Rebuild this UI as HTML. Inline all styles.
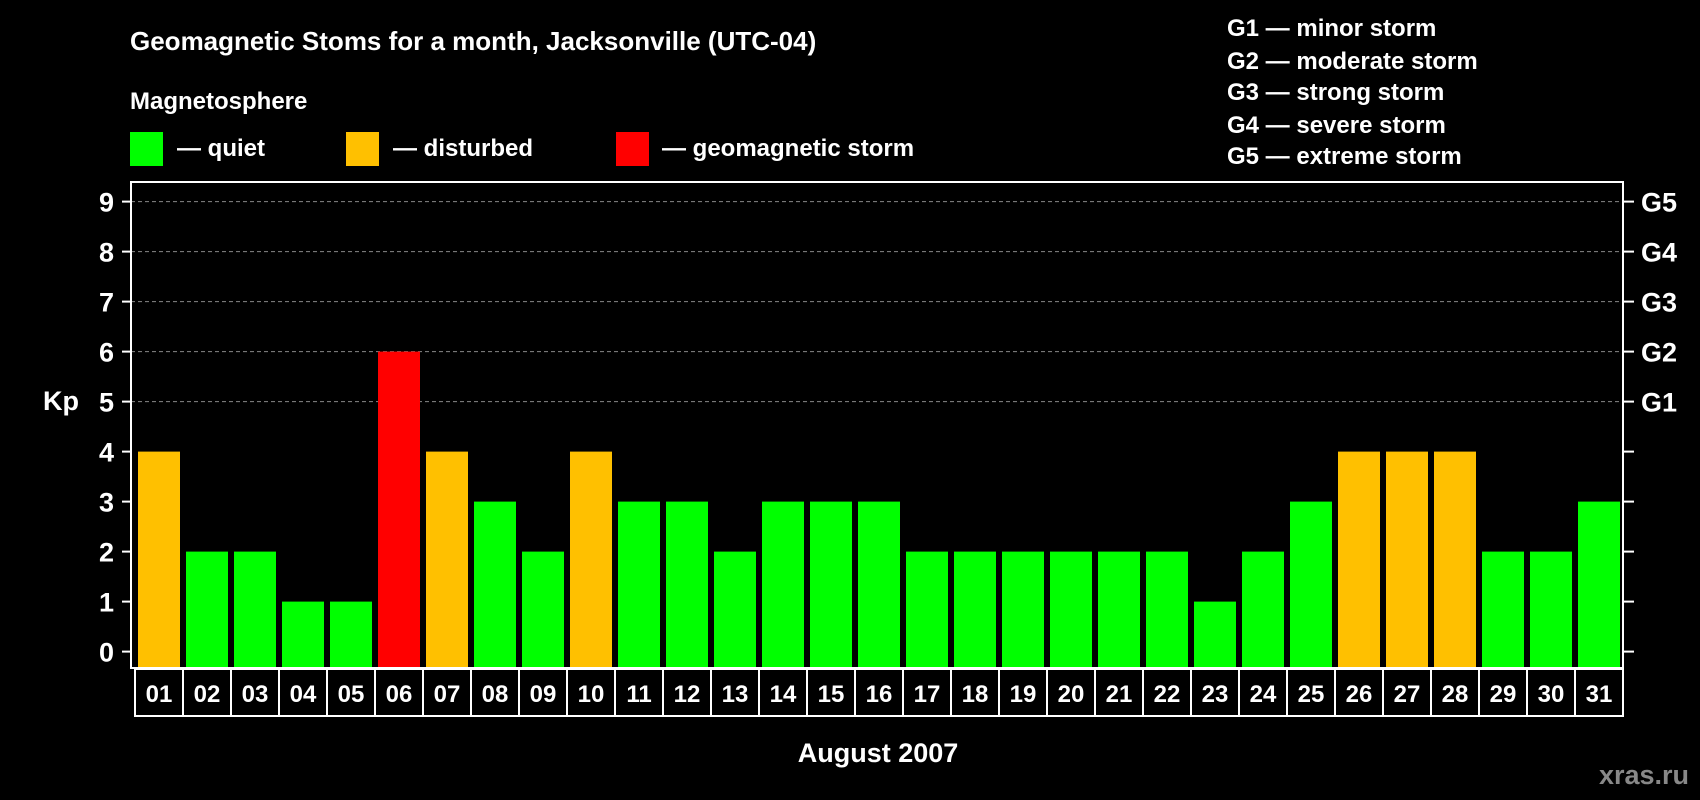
<!DOCTYPE html>
<html><head><meta charset="utf-8"><style>
html,body{margin:0;background:#000;}
svg{display:block;font-family:"Liberation Sans",sans-serif;font-weight:bold;}
</style></head><body>
<svg id="c" width="1700" height="800" viewBox="0 0 1700 800">
<text x="130" y="50" fill="#fff" font-size="26">Geomagnetic Stoms for a month, Jacksonville (UTC-04)</text>
<text x="130" y="109" fill="#fff" font-size="24">Magnetosphere</text>
<g><rect x="130" y="132" width="33" height="34" fill="#00ff00"/><text x="177" y="156" fill="#fff" font-size="24">— quiet</text></g>
<g><rect x="346" y="132" width="33" height="34" fill="#ffc000"/><text x="393" y="156" fill="#fff" font-size="24">— disturbed</text></g>
<g><rect x="616" y="132" width="33" height="34" fill="#ff0000"/><text x="662" y="156" fill="#fff" font-size="24">— geomagnetic storm</text></g>
<g fill="#fff" font-size="24">
<text x="1227" y="36">G1 — minor storm</text>
<text x="1227" y="69">G2 — moderate storm</text>
<text x="1227" y="100">G3 — strong storm</text>
<text x="1227" y="133">G4 — severe storm</text>
<text x="1227" y="164">G5 — extreme storm</text>
</g>
<text x="43" y="410" fill="#fff" font-size="27">Kp</text>
<text x="878" y="762" fill="#fff" font-size="27" text-anchor="middle">August 2007</text>
<text x="1689" y="784" fill="#888" font-size="27" text-anchor="end">xras.ru</text>
<g id="grid"></g><g id="bars"></g><g id="axes"></g>
</svg>
<script>
const days=["01","02","03","04","05","06","07","08","09","10","11","12","13","14","15","16","17","18","19","20","21","22","23","24","25","26","27","28","29","30","31"];
const kpValues=[4,2,2,1,1,6,4,3,2,4,3,3,2,3,3,3,2,2,2,2,2,2,1,2,3,4,4,4,2,2,3];
const yTicks=[0,1,2,3,4,5,6,7,8,9];
const gLabels=["G1","G2","G3","G4","G5"];
const gLevels=[5,6,7,8,9];
const NS="http://www.w3.org/2000/svg";
const L=131,R=1623,T=182,B=668,Y0=651.6,UNIT=50,STEP=48,X0=134,BW=42;
const y=v=>Y0-v*UNIT;
const x=i=>X0+i*STEP;
function mk(tag,attrs,parent){const e=document.createElementNS(NS,tag);for(const k in attrs)e.setAttribute(k,attrs[k]);parent.appendChild(e);return e;}
const grid=document.getElementById('grid'),bars=document.getElementById('bars'),axes=document.getElementById('axes');
gLevels.forEach((lv,i)=>{
  const g=mk('line',{x1:L,x2:R,y1:y(lv),y2:y(lv),stroke:'#888','stroke-dasharray':'4 3','stroke-width':1},grid);
  
  
  const t=mk('text',{x:1641,y:y(lv)+10,fill:'#fff','font-size':27},axes);t.textContent=gLabels[i];
  
  
});
kpValues.forEach((v,i)=>{
  const col=v>=5?'#ff0000':(v>=4?'#ffc000':'#00ff00');
  const r=mk('rect',{x:x(i)+4,y:y(v),width:BW,height:B-y(v)-1,fill:col},bars);
  
  
  const bx=mk('rect',{x:x(i)+1,y:B+1,width:STEP,height:47,fill:'none',stroke:'#fff','stroke-width':2},axes);
  
  
  const t=mk('text',{x:x(i)+25,y:B+34,fill:'#fff','font-size':24,'text-anchor':'middle'},axes);t.textContent=days[i];
  
  
});
yTicks.forEach(v=>{
  mk('line',{x1:L-9,x2:L,y1:y(v),y2:y(v),stroke:'#fff','stroke-width':2},axes);
  mk('line',{x1:R,x2:R+11,y1:y(v),y2:y(v),stroke:'#fff','stroke-width':2},axes);
  const t=mk('text',{x:114,y:y(v)+10,fill:'#fff','font-size':27,'text-anchor':'end'},axes);t.textContent=v;
  
  
});
const f=mk('rect',{x:L,y:T,width:R-L,height:B-T,fill:'none',stroke:'#fff','stroke-width':2},axes);


</script>
</body></html>
